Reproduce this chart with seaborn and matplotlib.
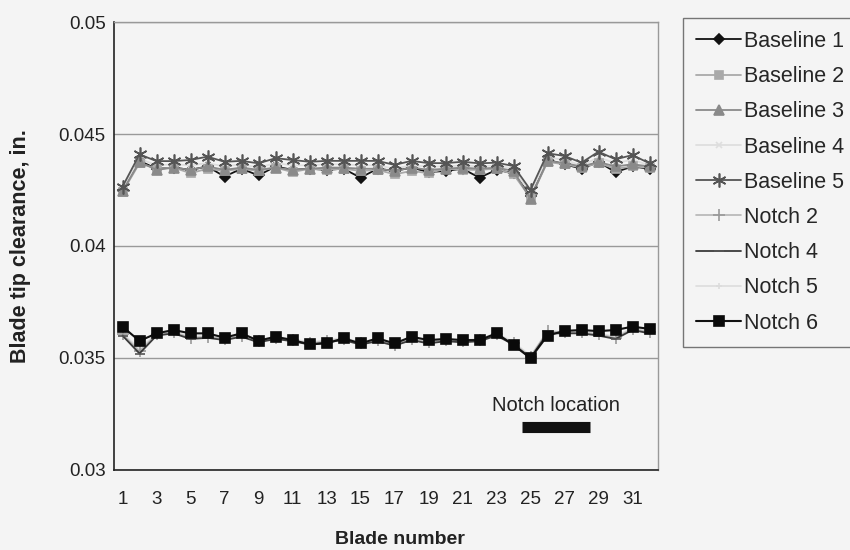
import numpy as np
import pandas as pd
import matplotlib
matplotlib.use("Agg")
import matplotlib.pyplot as plt
import seaborn as sns

blades = list(range(1, 33))

baseline1 = [0.04250, 0.04380, 0.04345, 0.04350, 0.04340, 0.04355, 0.04310, 0.04345, 0.04315, 0.04355, 0.04340, 0.04345, 0.04340, 0.04345, 0.04305, 0.04345,
             0.04335, 0.04350, 0.04330, 0.04335, 0.04345, 0.04305, 0.04340, 0.04325, 0.04225, 0.04385, 0.04365, 0.04345, 0.04375, 0.04330, 0.04355, 0.04345]
baseline2 = [0.04240, 0.04370, 0.04345, 0.04350, 0.04325, 0.04345, 0.04335, 0.04345, 0.04335, 0.04350, 0.04330, 0.04345, 0.04340, 0.04345, 0.04335, 0.04340,
             0.04320, 0.04335, 0.04325, 0.04345, 0.04340, 0.04340, 0.04345, 0.04320, 0.04215, 0.04375, 0.04365, 0.04350, 0.04370, 0.04345, 0.04355, 0.04350]
baseline3 = [0.04245, 0.04375, 0.04340, 0.04350, 0.04340, 0.04355, 0.04340, 0.04350, 0.04340, 0.04350, 0.04340, 0.04345, 0.04350, 0.04350, 0.04345, 0.04345,
             0.04335, 0.04350, 0.04340, 0.04345, 0.04350, 0.04345, 0.04350, 0.04335, 0.04210, 0.04380, 0.04370, 0.04355, 0.04375, 0.04355, 0.04365, 0.04355]
baseline4 = [0.04255, 0.04390, 0.04360, 0.04365, 0.04360, 0.04370, 0.04355, 0.04365, 0.04350, 0.04370, 0.04360, 0.04360, 0.04365, 0.04365, 0.04360, 0.04360,
             0.04345, 0.04360, 0.04355, 0.04355, 0.04360, 0.04355, 0.04360, 0.04345, 0.04235, 0.04395, 0.04385, 0.04360, 0.04395, 0.04370, 0.04385, 0.04360]
baseline5 = [0.04265, 0.04409, 0.04379, 0.04379, 0.04384, 0.04399, 0.04376, 0.04380, 0.04369, 0.04392, 0.04384, 0.04376, 0.04380, 0.04380, 0.04380, 0.04380,
             0.04362, 0.04380, 0.04370, 0.04370, 0.04376, 0.04369, 0.04372, 0.04357, 0.04250, 0.04414, 0.04402, 0.04372, 0.04421, 0.04387, 0.04406, 0.04369]
notch2 = [0.03605, 0.03530, 0.03605, 0.03615, 0.03590, 0.03595, 0.03585, 0.03600, 0.03575, 0.03590, 0.03580, 0.03565, 0.03575, 0.03585, 0.03565, 0.03580,
          0.03560, 0.03585, 0.03570, 0.03580, 0.03575, 0.03580, 0.03605, 0.03565, 0.03505, 0.03620, 0.03615, 0.03615, 0.03605, 0.03590, 0.03630, 0.03615]
notch4 = [0.03600, 0.03520, 0.03600, 0.03610, 0.03585, 0.03590, 0.03580, 0.03595, 0.03570, 0.03585, 0.03575, 0.03560, 0.03570, 0.03580, 0.03560, 0.03575,
          0.03555, 0.03580, 0.03565, 0.03575, 0.03570, 0.03575, 0.03600, 0.03560, 0.03500, 0.03610, 0.03610, 0.03610, 0.03600, 0.03585, 0.03625, 0.03610]
notch5 = [0.03610, 0.03540, 0.03610, 0.03620, 0.03595, 0.03600, 0.03590, 0.03605, 0.03580, 0.03595, 0.03585, 0.03570, 0.03580, 0.03590, 0.03570, 0.03585,
          0.03565, 0.03590, 0.03575, 0.03585, 0.03580, 0.03585, 0.03610, 0.03570, 0.03510, 0.03615, 0.03620, 0.03620, 0.03610, 0.03595, 0.03635, 0.03620]
notch6 = [0.03640, 0.03576, 0.03610, 0.03625, 0.03610, 0.03610, 0.03591, 0.03610, 0.03577, 0.03595, 0.03580, 0.03561, 0.03565, 0.03588, 0.03565, 0.03588,
          0.03565, 0.03595, 0.03580, 0.03585, 0.03580, 0.03580, 0.03610, 0.03558, 0.03499, 0.03600, 0.03621, 0.03625, 0.03620, 0.03625, 0.03640, 0.03630]

series_names = ["Baseline 1", "Baseline 2", "Baseline 3", "Baseline 4", "Baseline 5",
                "Notch 2", "Notch 4", "Notch 5", "Notch 6"]
series_values = [baseline1, baseline2, baseline3, baseline4, baseline5,
                 notch2, notch4, notch5, notch6]

notch_label = "Notch location"
notch_span = [24.5, 28.5]
notch_y = 0.0319
notch_label_y = 0.0329

x_tick_labels = [str(b) for b in range(1, 32, 2)]
y_ticks = [0.03, 0.035, 0.04, 0.045, 0.05]

styles = {
    "Baseline 1": dict(color="#111111", marker="D", ms=5, lw=1.3, mfc="#111111", mec="#111111"),
    "Baseline 2": dict(color="#a9a9a9", marker="s", ms=6, lw=1.3, mfc="#a9a9a9", mec="#a9a9a9"),
    "Baseline 3": dict(color="#8a8a8a", marker="^", ms=7, lw=1.3, mfc="#8a8a8a", mec="#8a8a8a"),
    "Baseline 4": dict(color="#dedede", marker="x", ms=5, lw=1.3, mfc="#dedede", mec="#dedede"),
    "Baseline 5": dict(color="#555555", marker=(6, 2, 0), ms=10, lw=1.3, mfc="#555555", mec="#555555"),
    "Notch 2": dict(color="#b5b5b5", marker="+", ms=8, lw=1.2, mfc="#999999", mec="#999999"),
    "Notch 4": dict(color="#3a3a3a", marker="_", ms=7, lw=1.3, mfc="#555555", mec="#555555"),
    "Notch 5": dict(color="#dcdcdc", marker="+", ms=5, lw=1.2, mfc="#dcdcdc", mec="#dcdcdc"),
    "Notch 6": dict(color="#111111", marker="s", ms=7, lw=1.5, mfc="#0a0a0a", mec="#0a0a0a"),
}

rows = []
for name, vals in zip(series_names, series_values):
    for b, v in zip(blades, vals):
        rows.append({"Blade": b, "Clearance": v, "Series": name})
df = pd.DataFrame(rows)

sns.set_style("white")
plt.rcParams["font.family"] = ["Liberation Sans", "DejaVu Sans"]

bg = "#f4f4f4"
fig = plt.figure(figsize=(8.5, 5.5), dpi=100, facecolor=bg)
ax = fig.add_axes([114 / 850, 80 / 550, 544 / 850, 448 / 550])
ax.set_facecolor(bg)

order = ["Baseline 1", "Baseline 4", "Baseline 2", "Baseline 3", "Baseline 5",
         "Notch 5", "Notch 2", "Notch 4", "Notch 6"]
handles = {}
for name in order:
    st = styles[name]
    sub = df[df["Series"] == name]
    sns.lineplot(data=sub, x="Blade", y="Clearance", ax=ax, color=st["color"],
                 marker=st["marker"], markersize=st["ms"], linewidth=st["lw"],
                 markerfacecolor=st["mfc"], markeredgecolor=st["mec"],
                 markeredgewidth=1.2, label=name, legend=False)
    handles[name] = ax.lines[-1]

# notch location annotation
ax.plot(notch_span, [notch_y, notch_y], color="#111111", lw=8, solid_capstyle="butt")
ax.text(np.mean(notch_span), notch_label_y, notch_label, ha="center", va="center",
        fontsize=14.5, color="#222222")

ax.set_xlim(0.5, 32.5)
ax.set_ylim(0.03, 0.05)
ax.set_yticks(y_ticks)
ax.set_yticklabels([f"{t:g}" for t in y_ticks])
ax.set_xticks(list(range(1, 32, 2)))
ax.set_xticklabels(x_tick_labels)
ax.set_xticks(np.arange(0.5, 33, 1.0), minor=True)
ax.tick_params(axis="x", which="major", length=0, labelsize=13.5, pad=15, colors="#222222")
ax.tick_params(axis="x", which="minor", length=5, direction="out", width=1, color="#222222")
ax.tick_params(axis="y", which="major", length=4, direction="out", width=1, pad=2,
               labelsize=13.5, colors="#222222")
ax.yaxis.grid(True, color="#999999", lw=1)
ax.set_axisbelow(True)

for s in ["left", "bottom"]:
    ax.spines[s].set_color("#222222")
    ax.spines[s].set_linewidth(1.2)
for s in ["top", "right"]:
    ax.spines[s].set_color("#999999")
    ax.spines[s].set_linewidth(1)

ax.set_xlabel("Blade number", fontsize=14, fontweight="bold", color="#222222")
ax.xaxis.set_label_coords((400 - 114) / 544, -(540 - 470) / 448)
ax.xaxis.label.set_va("center")
ax.set_ylabel("Blade tip clearance, in.", fontsize=15.5, fontweight="bold", labelpad=20, color="#222222")

leg = fig.legend([handles[n] for n in series_names], series_names,
                 loc="upper left", bbox_to_anchor=(683 / 850, 1 - 18 / 550),
                 frameon=True, fancybox=False, fontsize=15.5, labelspacing=0.66,
                 handlelength=2.1, handletextpad=0.12, borderpad=0.6, borderaxespad=0)
leg.get_frame().set_edgecolor("#555555")
leg.get_frame().set_facecolor(bg)
leg.get_frame().set_linewidth(1)

fig.savefig("out.png", dpi=100, facecolor=bg)
